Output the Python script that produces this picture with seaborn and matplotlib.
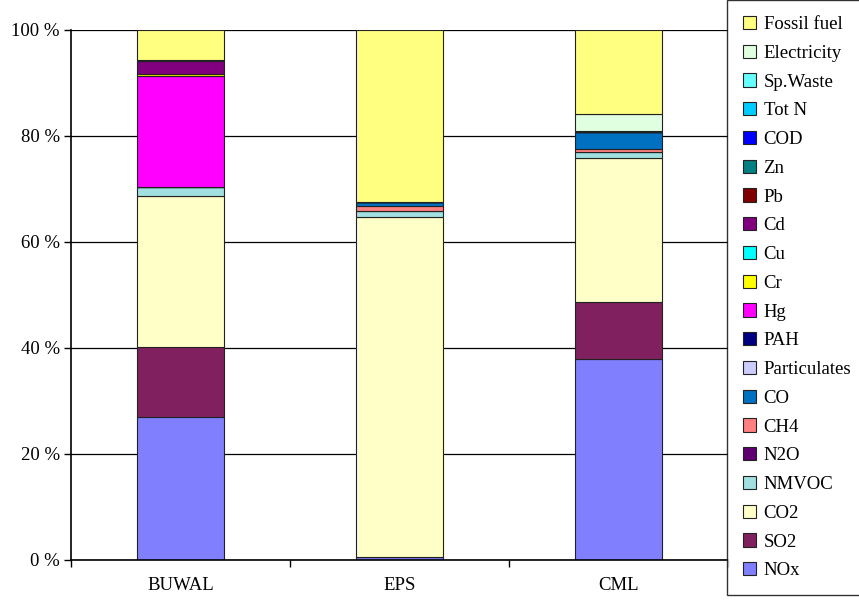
import matplotlib
matplotlib.use("Agg")
from matplotlib import pyplot as plt
from matplotlib.ticker import FixedLocator
import seaborn as sns
import pandas as pd

methods = ["BUWAL", "EPS", "CML"]

# components stacked from bottom to top, percent shares per method
components = ["NOx", "SO2", "CO2", "NMVOC", "N2O", "CH4", "CO", "Particulates",
              "PAH", "Hg", "Cr", "Cu", "Cd", "Pb", "Zn", "COD", "Tot N",
              "Sp.Waste", "Electricity", "Fossil fuel"]
buwal = [27.0, 13.2, 28.5, 1.7, 0.0, 0.0, 0.0, 0.0, 0.0, 20.9, 0.4, 0.0, 2.4, 0.3,
         0.0, 0.0, 0.0, 0.0, 0.0, 5.6]
eps = [0.5, 0.0, 64.3, 1.0, 0.0, 0.9, 0.8, 0.0, 0.0, 0.0, 0.0, 0.0, 0.0, 0.0,
       0.0, 0.0, 0.0, 0.0, 0.0, 32.5]
cml = [38.0, 10.6, 27.2, 1.1, 0.0, 0.6, 3.2, 0.0, 0.0, 0.0, 0.0, 0.0, 0.0, 0.0,
       0.0, 0.2, 0.0, 0.0, 3.2, 15.9]
colors = ["#8080FF", "#80205F", "#FFFFC8", "#A0E0E0", "#600070", "#FF8080",
          "#0070C0", "#CCCCFF", "#000080", "#FF00FF", "#FFFF00", "#00FFFF",
          "#800080", "#800000", "#008080", "#0000FF", "#00CCFF", "#66FFFF",
          "#E0FFE0", "#FFFF80"]

data = pd.DataFrame({"BUWAL": buwal, "EPS": eps, "CML": cml}, index=components)

plt.rcParams["font.family"] = ["Liberation Serif", "DejaVu Serif"]
fig = plt.figure(figsize=(8.59, 6.05), dpi=100)
ax = fig.add_axes([71 / 859, 1 - 560 / 605, 657 / 859, 530 / 605])

bottom = pd.Series([0.0, 0.0, 0.0], index=methods)
handles = []
for comp, col in zip(components, colors):
    vals = data.loc[comp, methods]
    sns.barplot(x=methods, y=vals.values, bottom=bottom.values, color=col,
                width=0.4, edgecolor="#222222", linewidth=0.8, ax=ax,
                saturation=1)
    handles.append(plt.Rectangle((0, 0), 1, 1, facecolor=col,
                                 edgecolor="#222222", linewidth=0.8))
    bottom = bottom + vals.values

ax.set_xlim(-0.5, 2.5)
ax.set_ylim(0, 100)
ax.set_yticks([0, 20, 40, 60, 80, 100])
ax.set_yticklabels([f"{v} %" for v in [0, 20, 40, 60, 80, 100]], fontsize=13.5)
ax.yaxis.grid(True, color="black", linewidth=0.9)
ax.set_axisbelow(True)
ax.tick_params(axis="y", length=5, width=1, color="black", pad=3)
ax.tick_params(axis="x", length=0, labelsize=13.5, pad=12)
ax.xaxis.set_minor_locator(FixedLocator([-0.5, 0.5, 1.5, 2.5]))
ax.tick_params(axis="x", which="minor", length=5, width=1, color="black")
ax.set_xlabel("")
ax.set_ylabel("")
for side in ["top", "right"]:
    ax.spines[side].set_visible(False)
ax.spines["left"].set_linewidth(1.2)
ax.spines["bottom"].set_linewidth(1.2)

leg = fig.legend(handles[::-1], components[::-1], loc="upper left",
                 bbox_to_anchor=(727 / 859, 1.0), fontsize=13.5,
                 frameon=True, fancybox=False, edgecolor="black",
                 handlelength=0.7, handleheight=0.7, handletextpad=0.4,
                 labelspacing=0.62, borderpad=0.85, borderaxespad=0)
leg.get_frame().set_linewidth(1.0)

fig.savefig("out.png", dpi=100)
